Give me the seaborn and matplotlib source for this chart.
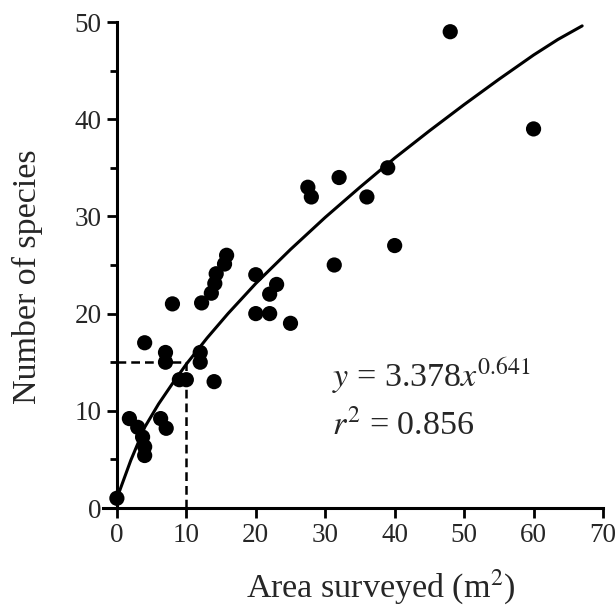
import numpy as np
import pandas as pd
import seaborn as sns
from matplotlib import pyplot as plt
from matplotlib.ticker import MultipleLocator

# survey points
area = [0, 1.8, 3, 3.7, 4, 4, 6.3, 7.1, 4, 7, 7, 9, 10, 12, 12, 14,
        8, 12.2, 13.6, 14.1, 14.3, 15.5, 15.8, 20, 20, 22, 22, 23, 25,
        27.5, 28, 32, 31.3, 36, 39, 40, 48, 60]
species = [1, 9.2, 8.3, 7.3, 6.3, 5.4, 9.2, 8.2, 17, 16, 15, 13.2, 13.2, 16, 15, 13,
           21, 21.1, 22.1, 23.1, 24.1, 25.1, 26, 24, 20, 20, 22, 23, 19,
           33, 32, 34, 25, 32, 35, 27, 49, 39]

# fitted curve
curve_x = [0, 2, 4, 6, 8, 10, 13, 16, 20, 25, 30, 35, 40, 45, 50, 55, 60, 63.5, 67]
curve_y = [1.0, 4.9, 8.3, 10.7, 12.8, 14.8, 17.5, 20.0, 23.1, 26.6, 29.9,
           33.0, 36.0, 38.8, 41.5, 44.1, 46.6, 48.2, 49.6]

guide_x, guide_y = 10, 15

pts = pd.DataFrame({"area": area, "species": species})
fit = pd.DataFrame({"area": curve_x, "species": curve_y})

sns.set_theme(style="ticks")
plt.rcParams["font.family"] = ["Liberation Serif", "DejaVu Serif"]
plt.rcParams["mathtext.fontset"] = "stix"

fig = plt.figure(figsize=(6.16, 6.06), dpi=100)
ax = fig.add_axes([103 / 616, 98 / 606, 500 / 616, 486 / 606])

sns.lineplot(data=fit, x="area", y="species", ax=ax, color="black", linewidth=2.2, sort=True)
sns.scatterplot(data=pts, x="area", y="species", ax=ax, color="black", s=120,
                edgecolor="none", clip_on=False, zorder=3)

ax.plot([0, guide_x], [guide_y, guide_y], color="black", linestyle=(0, (3.5, 2)), linewidth=1.8)
ax.plot([guide_x, guide_x], [0, guide_y], color="black", linestyle=(0, (3.5, 2)), linewidth=1.8)

ax.set_xlim(-2, 70)
ax.set_ylim(0, 50)
ax.spines["left"].set_position(("data", 0))
ax.spines["right"].set_visible(False)
ax.spines["top"].set_visible(False)
for s in ["left", "bottom"]:
    ax.spines[s].set_linewidth(2.2)
    ax.spines[s].set_color("black")

ax.xaxis.set_major_locator(MultipleLocator(10))
ax.yaxis.set_major_locator(MultipleLocator(10))
ax.yaxis.set_minor_locator(MultipleLocator(5))
ax.tick_params(axis="both", which="major", length=7, width=2, labelsize=19.5, color="black", pad=4)
ax.tick_params(axis="y", which="minor", length=5, width=2, color="black")

ax.set_xlabel("Area surveyed (m$^2$)", fontsize=24.5)
ax.set_ylabel("Number of species", fontsize=24.5)
ax.xaxis.set_label_coords(0.555, -0.123)
ax.yaxis.set_label_coords(-0.12, 0.476)

ax.text(31, 12.4, "$y$ = 3.378$x^{0.641}$", fontsize=24.5, va="baseline", ha="left")
ax.text(31, 7.5, "$r^2$ = 0.856", fontsize=24.5, va="baseline", ha="left")

plt.savefig("out.png", dpi=100)
plt.close()
